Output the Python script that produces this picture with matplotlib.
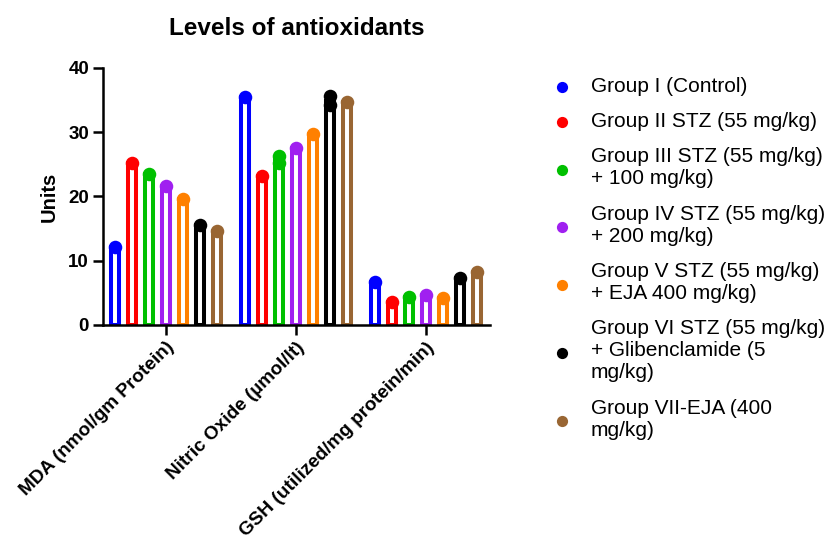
import numpy as np
import matplotlib.pyplot as plt

plt.rcParams['font.family'] = ['Liberation Sans', 'DejaVu Sans']

categories = ['MDA (nmol/gm Protein)', 'Nitric Oxide (µmol/lt)',
              'GSH (utilized/mg protein/min)']
groups = ['Group I (Control)',
          'Group II STZ (55 mg/kg)',
          'Group III STZ (55 mg/kg)\n+ 100 mg/kg)',
          'Group IV STZ (55 mg/kg)\n+ 200 mg/kg)',
          'Group V STZ (55 mg/kg)\n+ EJA 400 mg/kg)',
          'Group VI STZ (55 mg/kg)\n+ Glibenclamide (5\nmg/kg)',
          'Group VII-EJA (400\nmg/kg)']
colors = ['#0000ff', '#ff0000', '#00c000', '#a020f0', '#ff8000', '#000000', '#996633']

# replicate values per group, one list per category
mda_points = [[12.1], [25.2], [23.5], [21.7], [19.6], [15.5], [14.6]]
no_points = [[35.5], [23.2], [26.3, 25.2], [27.6], [29.7], [35.6, 34.2], [34.7]]
gsh_points = [[6.7], [3.6], [4.4], [4.7], [4.2], [7.3], [8.2]]
all_points = [mda_points, no_points, gsh_points]

fig = plt.figure(figsize=(8.3, 5.43), dpi=100)
ax = fig.add_axes([0.124, 0.4015, 0.466, 0.4733])

step = 0.131
width = 0.062
x = np.arange(len(categories))
for g, color in enumerate(colors):
    offset = (g - 3) * step
    means = [np.mean(pts[g]) for pts in all_points]
    ax.bar(x + offset, means, width=width, facecolor='white', edgecolor=color,
           linewidth=2.9, zorder=2)
    for c, pts in enumerate(all_points):
        ax.scatter([x[c] + offset] * len(pts[g]), pts[g], s=95, color=color,
                   linewidths=0, zorder=3)
    ax.scatter([], [], s=65, color=color, linewidths=0, label=groups[g])

ax.set_xlim(-0.485, 2.49)
ax.set_ylim(0, 40)
ax.set_yticks([0, 10, 20, 30, 40])
ax.set_xticks(x)
ax.set_xticklabels(categories, rotation=45, ha='right', rotation_mode='anchor',
                   fontsize=13.7, fontweight='bold')
for lbl in ax.get_yticklabels():
    lbl.set_fontweight('bold')
    lbl.set_fontsize(13.5)
ax.tick_params(axis='both', length=7, width=1.8, direction='out')
ax.tick_params(axis='x', pad=3)
ax.tick_params(axis='y', pad=3)
for side in ['top', 'right']:
    ax.spines[side].set_visible(False)
for side in ['left', 'bottom']:
    ax.spines[side].set_linewidth(1.8)

ax.set_ylabel('Units', fontsize=14.5, fontweight='bold', labelpad=7)
ax.set_title('Levels of antioxidants', fontsize=17.5, fontweight='bold', pad=24)

leg = fig.legend(loc='upper left', bbox_to_anchor=(552 / 830, 1 - 77 / 543),
                 frameon=False, fontsize=15, handletextpad=0.85,
                 labelspacing=0.78, handlelength=1.0, borderpad=0,
                 borderaxespad=0)
for t in leg.get_texts():
    t.set_linespacing(1.2)

fig.savefig('out.png', dpi=100)
